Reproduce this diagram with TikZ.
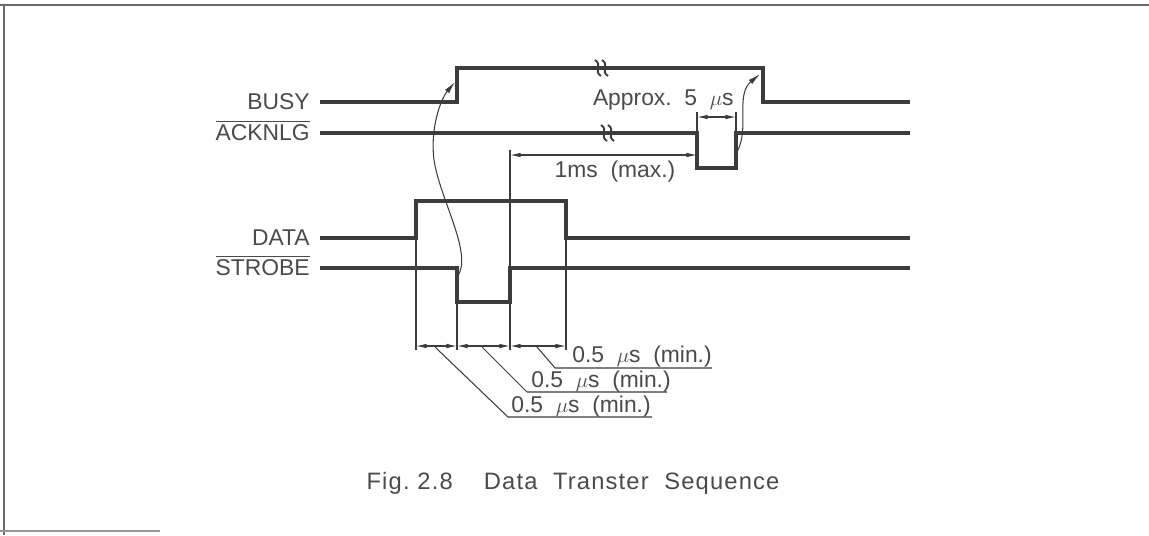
\documentclass[tikz,border=0pt]{standalone}
\usepackage{fontspec}
\setmainfont{Liberation Sans}
\usetikzlibrary{arrows.meta,positioning,calc}
\definecolor{tdInk}{HTML}{3C3C3C}
\definecolor{tdText}{HTML}{4A4A4A}
\definecolor{tdFrame}{HTML}{6A6A6A}
\tikzset{
  sig/.style={line width=2pt, draw=tdInk, line join=miter},
  ext/.style={line width=0.6pt, draw=tdInk},
  dimln/.style={line width=0.6pt, draw=tdInk, {Latex[length=6pt,width=2.6pt]}-{Latex[length=6pt,width=2.6pt]}},
  cause/.style={line width=0.6pt, draw=tdInk, -{Latex[length=7pt,width=3pt]}},
  lbl/.style={font=\fontsize{13}{15}\selectfont, text=tdText, inner sep=0pt},
  brk/.style={line width=1.1pt, draw=tdInk},
}
% break mark on a long signal line
\newcommand{\brkmark}[2]{%
  \draw[brk] (#1-3,#2-8) .. controls (#1+5,#2-3) and (#1-5,#2+3) .. (#1+3,#2+8);
  \draw[brk] (#1+4,#2-8) .. controls (#1+12,#2-3) and (#1+2,#2+3) .. (#1+10,#2+8);}

\begin{document}
\begin{tikzpicture}[x=0.02cm, y=-0.02cm]
  \useasboundingbox (0,0) rectangle (1149,535);
  % frame
  \draw[line width=1pt, tdFrame] (0,5) -- (1149,5);
  \draw[line width=1pt, tdFrame] (4,5) -- (4,535);
  \draw[line width=0.8pt, tdFrame!70] (0,531) -- (160,531);

  % signal names
  \node[lbl, anchor=base east] (busy) at (310,109) {BUSY};
  \node[lbl, anchor=base east] (ack) at (310,140) {$\overline{\mbox{ACKNLG}}$};
  \node[lbl, anchor=base east] (data) at (310,245) {DATA};
  \node[lbl, anchor=base east] (strobe) at (310,275) {$\overline{\mbox{STROBE}}$};

  % edges
  \coordinate (busyUp) at (457,68);
  \coordinate (busyDn) at (763,68);
  \coordinate (ackDn) at (697,133);
  \coordinate (ackUp) at (736,133);
  \coordinate (dataUp) at (416,201);
  \coordinate (dataDn) at (566,201);
  \coordinate (stbDn) at (457,268);
  \coordinate (stbUp) at (510,268);

  % waveforms
  \draw[sig] (320,102) -| (busyUp) -- (busyDn) |- (910,102);
  \draw[sig] (320,133) -- (ackDn) -- (697,168) -- (736,168) -- (ackUp) -- (910,133);
  \draw[sig] (320,238) -| (dataUp) -- (dataDn) |- (910,238);
  \draw[sig] (320,268) -- (stbDn) -- (457,302) -- (510,302) -- (stbUp) -- (910,268);
  \brkmark{598}{68}
  \brkmark{604}{133}

  % extension lines
  \draw[ext] (416,238) -- (416,350);
  \draw[ext] (457,302) -- (457,350);
  \draw[ext] (stbUp) ++(0,-118) -- (510,350);
  \draw[ext] (566,238) -- (566,350);
  \draw[ext] (697,112) -- (ackDn);
  \draw[ext] (736,112) -- (ackUp);

  % timing
  \draw[dimln] (697,117) -- (736,117);
  \node[lbl, anchor=base east] (approx) at (734,105) {Approx.\ \ 5\ \ $\mu$s};
  \draw[dimln] (510,155) -- (ackDn |- 0,155);
  \node[lbl, anchor=base] (onems) at (615,177) {1ms\ \ (max.)};
  \draw[dimln] (416,346) -- (457,346);
  \draw[dimln] (457,346) -- (510,346);
  \draw[dimln] (510,346) -- (566,346);

  % leaders
  \draw[ext] (435,347) -- (508,417) -- (652,417);
  \draw[ext] (482,347) -- (527,392) -- (667,392);
  \draw[ext] (537,347) -- (555,368) -- (712,368);
  \node[lbl, anchor=base west] (tA) at (511,412) {0.5\ \ $\mu$s\ \ (min.)};
  \node[lbl, anchor=base west] (tB) at (531,387) {0.5\ \ $\mu$s\ \ (min.)};
  \node[lbl, anchor=base west] (tC) at (572,362) {0.5\ \ $\mu$s\ \ (min.)};

  % cause and effect
  \draw[cause] (457,277) .. controls (474,255) and (440,200) .. (434,160) .. controls (430,130) and (440,100) .. (455,82);
  \draw[cause] (737,152) .. controls (750,128) and (735,95) .. (760,74);

  \node[lbl, font=\fontsize{13.5}{15}\selectfont\addfontfeature{LetterSpace=5}, anchor=base] (cap) at (573,489) {Fig.\ 2.8\ \ \ \ Data\ \ Transter\ \ Sequence};
\end{tikzpicture}
\end{document}
